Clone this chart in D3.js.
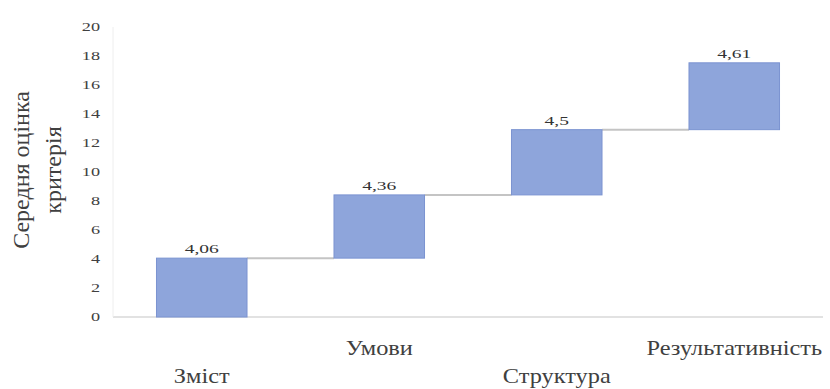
<!DOCTYPE html>
<html>
<head>
<meta charset="utf-8">
<script src="https://cdn.jsdelivr.net/npm/d3@7"></script>
</head>
<body style="margin:0">
<svg id="chart" width="830" height="389"></svg>
<script>
// Data
const categories = ["Зміст", "Умови", "Структура", "Результативність"];
const values = [4.06, 4.36, 4.5, 4.61];
const yTicks = [0, 2, 4, 6, 8, 10, 12, 14, 16, 18, 20];
const yTitle = ["Середня оцінка", "критерія"];

const serif = "Liberation Serif";

// Running totals for the waterfall
let total = 0;
const steps = categories.map((c, i) => {
    const start = total;
    total += values[i];
    return { label: c, value: values[i], start: start, end: total, i: i };
});

const margin = { top: 27, right: 7, bottom: 72, left: 113 };
const W = 830, H = 389;

const svg = d3.select("#chart");

const x = d3.scaleBand()
    .domain(categories)
    .range([margin.left, W - margin.right])
    .paddingInner(0.49)
    .paddingOuter(0.245);

const y = d3.scaleLinear()
    .domain([0, 20])
    .range([H - margin.bottom, margin.top]);

// the source picture is a bit wide, so text is stretched sideways
function put(px, py, sx) {
    return "translate(" + px + "," + py + ") scale(" + sx + ",1)";
}

// Axis lines
svg.append("line")
    .attr("x1", margin.left).attr("x2", W - margin.right)
    .attr("y1", y(0)).attr("y2", y(0))
    .attr("stroke", "#d9d9d9").attr("stroke-width", 1.5);
svg.append("line")
    .attr("x1", margin.left).attr("x2", margin.left)
    .attr("y1", y(0)).attr("y2", y(20))
    .attr("stroke", "#eeeeee").attr("stroke-width", 1);

// Y tick labels
svg.selectAll(".tick-label")
    .data(yTicks)
    .enter().append("text")
    .attr("class", "tick-label")
    .attr("font-family", serif)
    .attr("font-size", 13)
    .attr("fill", "#404040")
    .attr("text-anchor", "end")
    .attr("dy", "0.32em")
    .attr("transform", d => put(margin.left - 13, y(d), 1.4))
    .text(d => d);

// Connector lines
svg.selectAll(".conn")
    .data(steps.slice(0, -1))
    .enter().append("line")
    .attr("class", "conn")
    .attr("x1", d => x(d.label) + x.bandwidth())
    .attr("x2", d => x(categories[d.i + 1]))
    .attr("y1", d => y(d.end))
    .attr("y2", d => y(d.end))
    .attr("stroke", "#c4c4c4")
    .attr("stroke-width", 2);

// Bars
svg.selectAll(".bar")
    .data(steps)
    .enter().append("rect")
    .attr("class", "bar")
    .attr("x", d => x(d.label))
    .attr("width", x.bandwidth())
    .attr("y", d => y(d.end))
    .attr("height", d => y(d.start) - y(d.end))
    .attr("fill", "#8ea5db")
    .attr("stroke", "#7b93d1")
    .attr("stroke-width", 1);

// Value labels
svg.selectAll(".val")
    .data(steps)
    .enter().append("text")
    .attr("class", "val")
    .attr("text-anchor", "middle")
    .attr("font-family", serif)
    .attr("font-size", 13)
    .attr("fill", "#333")
    .attr("transform", d => put(x(d.label) + x.bandwidth() / 2, y(d.end) - 5, 1.5))
    .text(d => String(d.value).replace(".", ","));

// Category labels, staggered
svg.selectAll(".cat")
    .data(steps)
    .enter().append("text")
    .attr("class", "cat")
    .attr("text-anchor", "middle")
    .attr("font-family", serif)
    .attr("font-size", 21)
    .attr("fill", "#404040")
    .attr("transform", d => put(x(d.label) + x.bandwidth() / 2,
        d.i % 2 === 0 ? y(0) + 66 : y(0) + 38, 1.16))
    .text(d => d.label);

// Y axis title
svg.selectAll(".ytitle")
    .data(yTitle)
    .enter().append("text")
    .attr("class", "ytitle")
    .attr("text-anchor", "middle")
    .attr("font-family", serif)
    .attr("font-size", 24)
    .attr("fill", "#404040")
    .attr("transform", (d, i) => "translate(" + (29 + i * 32) + "," + (170) + ") rotate(-90)")
    .text(d => d);
</script>
</body>
</html>
